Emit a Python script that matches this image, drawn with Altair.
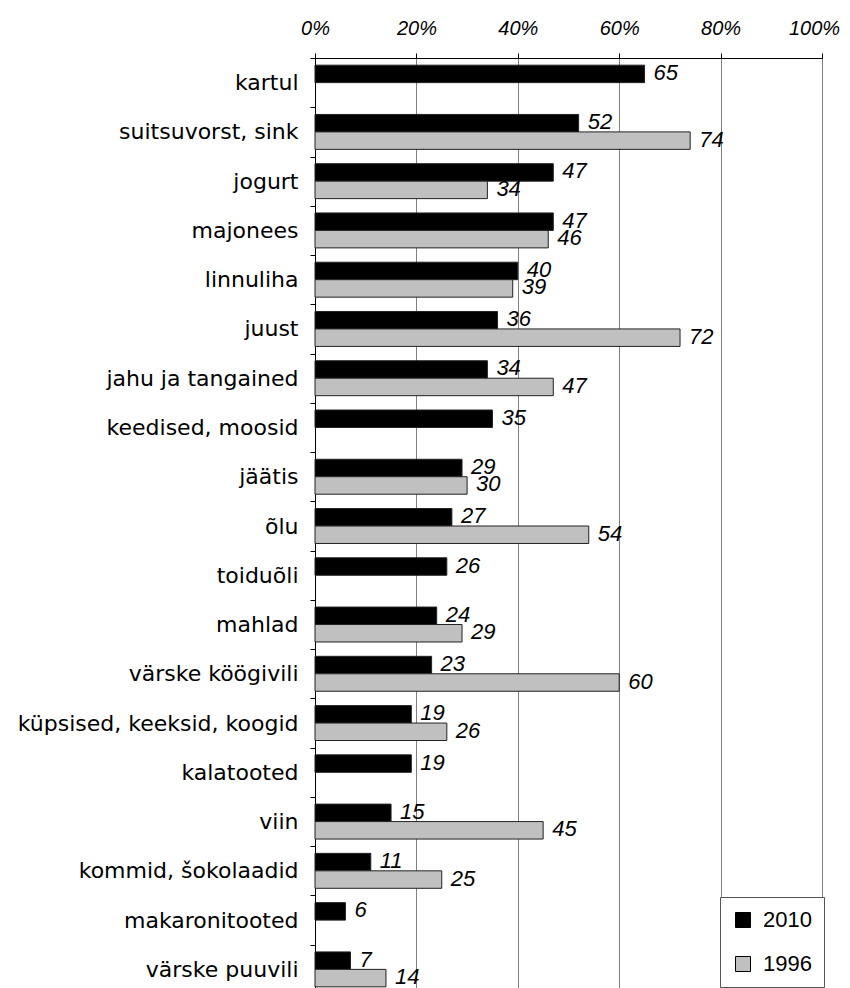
import altair as alt
import pandas as pd

categories = [
    "kartul", "suitsuvorst, sink", "jogurt", "majonees", "linnuliha", "juust",
    "jahu ja tangained", "keedised, moosid", "jäätis", "õlu", "toiduõli",
    "mahlad", "värske köögivili", "küpsised, keeksid, koogid", "kalatooted",
    "viin", "kommid, šokolaadid", "makaronitooted", "värske puuvili",
]
values_2010 = [65, 52, 47, 47, 40, 36, 34, 35, 29, 27, 26, 24, 23, 19, 19, 15, 11, 6, 7]
values_1996 = [None, 74, 34, 46, 39, 72, 47, None, 30, 54, None, 29, 60, 26, None, 45, 25, None, 14]
series = ["2010", "1996"]
x_ticks = [0, 20, 40, 60, 80, 100]

rows = []
for c, a, b in zip(categories, values_2010, values_1996):
    rows.append({"cat": c, "year": "2010", "v": a})
    if b is not None:
        rows.append({"cat": c, "year": "1996", "v": b})
df = pd.DataFrame(rows)

W, H = 507, 936

y_enc = alt.Y("cat:N", sort=categories,
              scale=alt.Scale(paddingInner=0, paddingOuter=0),
              axis=alt.Axis(title=None, orient="left", tickBand="extent",
                            labelFont="DejaVu Sans", labelFontSize=22,
                            labelColor="black", labelPadding=12,
                            tickColor="black", tickSize=5,
                            domainColor="black", labelLimit=400))
yoff = alt.YOffset("year:N", sort=series,
                   scale=alt.Scale(paddingInner=0, paddingOuter=0.41))
x_enc = alt.X("v:Q", scale=alt.Scale(domain=[0, 100]),
              axis=alt.Axis(title=None, orient="top", values=x_ticks,
                            labelExpr="datum.value + '%'", labelFlush=False,
                            labelOffset={"condition": {"test": "datum.value == 100", "value": -8},
                                         "value": 0},
                            labelFont="Liberation Sans", labelFontStyle="italic",
                            labelFontSize=20, labelColor="black", labelPadding=15,
                            tickColor="black", tickSize=5, domainColor="black",
                            grid=True, gridColor="#808080", gridWidth=1))

bars = alt.Chart(df).mark_bar(stroke="#222222", strokeWidth=1).encode(
    x=x_enc, y=y_enc, yOffset=yoff,
    color=alt.Color("year:N", sort=series,
                    scale=alt.Scale(domain=series, range=["#000000", "#c0c0c0"]),
                    legend=alt.Legend(title=None, orient="none", legendX=405, legendY=839,
                                      direction="vertical", symbolType="square",
                                      symbolSize=225, symbolStrokeColor="black",
                                      symbolStrokeWidth=1, labelFont="Liberation Sans",
                                      labelFontSize=22, labelColor="black",
                                      labelOffset=9, rowPadding=22, padding=12,
                                      strokeColor="#555555", fillColor="white")),
)

labels = alt.Chart(df).mark_text(
    align="left", baseline="middle", dx=9, dy=-1,
    font="Liberation Sans", fontStyle="italic", fontSize=22, color="black",
).encode(x="v:Q", y=alt.Y("cat:N", sort=categories), yOffset=alt.YOffset("year:N", sort=series),
         text="v:Q")

chart = (bars + labels).properties(
    width=W, height=H,
    autosize=alt.AutoSizeParams(type="none"),
    padding={"left": 307, "top": 50, "right": 20, "bottom": 0},
).configure_view(strokeWidth=0)

chart.save("out.html", embed_options={"renderer": "svg", "actions": False})
